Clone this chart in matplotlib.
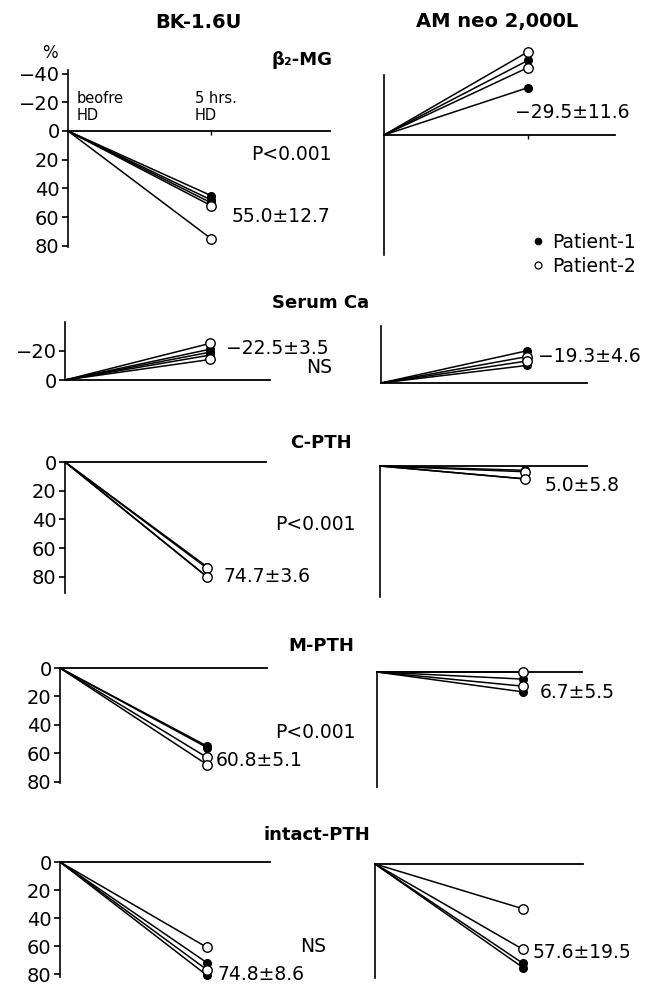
import matplotlib
matplotlib.use('Agg')
import matplotlib.pyplot as plt
from matplotlib.lines import Line2D

plt.rcParams['font.family'] = ['DejaVu Sans']

W, H = 662, 984

# ---------------- data ----------------
columns = ["BK-1.6U", "AM neo 2,000L"]
params = ["β₂-MG", "Serum Ca", "C-PTH", "M-PTH", "intact-PTH"]
x_labels = ["beofre\nHD", "5 hrs.\nHD"]

# % reduction after 5 hrs HD (negative = increase); filled = Patient-1, open = Patient-2
bk_filled = [[45, 48, 50], [-21, -19, -17], [73, 80], [55, 56], [72, 81]]
bk_open = [[52, 75], [-25, -14], [74, 80], [63, 68], [61, 77]]
am_filled = [[-52, -33], [-22, -12], [3, 9], [5, 14], [71, 74]]
am_open = [[-58, -47], [-18, -15], [4, 9], [0, 10], [32, 61]]

bk_stats = ["55.0±12.7", "−22.5±3.5", "74.7±3.6", "60.8±5.1", "74.8±8.6"]
am_stats = ["−29.5±11.6", "−19.3±4.6", "5.0±5.8", "6.7±5.5", "57.6±19.5"]
p_values = ["P<0.001", "NS", "P<0.001", "P<0.001", "NS"]

row_ticks = [[-40, -20, 0, 20, 40, 60, 80], [-20, 0], [0, 20, 40, 60, 80],
             [0, 20, 40, 60, 80], [0, 20, 40, 60, 80]]
legend_labels = ["Patient-1", "Patient-2"]

# ---------------- layout (pixels) ----------------
# spine_x, end_x, point_x, top_y, bottom_y, zero_y, px per unit
left_layout = [(68, 330, 211, 70, 247, 131, 1.435),
               (65, 270, 210, 322, 380, 380, 1.465),
               (65, 266, 207, 462, 593, 462, 1.435),
               (60, 267, 207, 668, 783, 668, 1.42),
               (60, 270, 207, 862, 977, 862, 1.40)]
right_layout = [(384, 615, 528, 75, 255, 135, 1.435),
                (381, 587, 527, 326, 383, 383, 1.465),
                (380, 587, 525, 466, 597, 466, 1.435),
                (377, 582, 523, 672, 787, 672, 1.42),
                (375, 583, 523, 864, 978, 864, 1.40)]

bk_stat_pos = [(330, 217, 'right'), (226, 349, 'left'), (223, 577, 'left'),
               (216, 760, 'left'), (218, 974, 'left')]
am_stat_pos = [(515, 112, 'left'), (538, 357, 'left'), (545, 485, 'left'),
               (540, 692, 'left'), (533, 952, 'left')]
p_pos = [(332, 155, 'right'), (332, 367, 'right'), (275, 525, 'left'),
         (275, 732, 'left'), (300, 947, 'left')]
title_pos = [(302, 60), (321, 303), (321, 443), (321, 646), (317, 835)]

fig = plt.figure(figsize=(W / 100, H / 100), dpi=100)
fig.patch.set_facecolor('white')


def ftext(x, y, s, **kw):
    kw.setdefault('va', 'center')
    return fig.text(x / W, 1 - y / H, s, **kw)


def tick_fmt(t):
    return f"−{abs(t)}" if t < 0 else str(t)


def make_ax(lay):
    sx, ex, px, ty, by, zy, sc = lay
    ax = fig.add_axes([sx / W, 1 - by / H, (ex - sx) / W, (by - ty) / H])
    ax.set_xlim(0, (ex - sx) / (px - sx))
    ax.set_ylim((by - zy) / sc, (ty - zy) / sc)
    ax.patch.set_alpha(0)
    for s in ['top', 'right']:
        ax.spines[s].set_visible(False)
    ax.spines['bottom'].set_position(('data', 0))
    ax.spines['left'].set_linewidth(1.2)
    ax.spines['bottom'].set_linewidth(1.3)
    ax.set_xticks([])
    return ax


def draw(ax, filled, opened):
    for v in filled:
        ax.plot([0, 1], [0, v], color='black', lw=1.1, clip_on=False, zorder=3)
        ax.plot([1], [v], marker='o', ms=5.5, mfc='black', mec='black',
                ls='none', clip_on=False, zorder=4)
    for v in opened:
        ax.plot([0, 1], [0, v], color='black', lw=1.1, clip_on=False, zorder=3)
        ax.plot([1], [v], marker='o', ms=6.8, mfc='white', mec='black', mew=1.0,
                ls='none', clip_on=False, zorder=5)


for i in range(5):
    axl = make_ax(left_layout[i])
    draw(axl, bk_filled[i], bk_open[i])
    axl.set_yticks(row_ticks[i])
    axl.set_yticklabels([tick_fmt(t) for t in row_ticks[i]], fontsize=14)
    axl.tick_params(axis='y', direction='out', length=4, width=1.2, pad=2)

    axr = make_ax(right_layout[i])
    draw(axr, am_filled[i], am_open[i])
    axr.set_yticks([])

    if i == 0:
        for ax in (axl, axr):
            ax.set_xticks([1])
            ax.set_xticklabels([])
            ax.tick_params(axis='x', direction='out', length=3, width=1.0)

    ftext(*title_pos[i], params[i], ha='center', fontsize=13, fontweight='bold')
    x, y, ha = bk_stat_pos[i]
    ftext(x, y, bk_stats[i], ha=ha, fontsize=13.5)
    x, y, ha = am_stat_pos[i]
    ftext(x, y, am_stats[i], ha=ha, fontsize=13.5)
    x, y, ha = p_pos[i]
    ftext(x, y, p_values[i], ha=ha, fontsize=13.5)

# column headers
ftext(198, 22, columns[0], ha='center', fontsize=14, fontweight='bold')
ftext(497, 22, columns[1], ha='center', fontsize=14, fontweight='bold')
ftext(50, 53, "%", ha='center', fontsize=12)
ftext(77, 107, x_labels[0], ha='left', fontsize=10.5, linespacing=1.2)
ftext(195, 107, x_labels[1], ha='left', fontsize=10.5, linespacing=1.2)

handles = [Line2D([], [], marker='o', ls='none', ms=4.5, mfc='black', mec='black'),
           Line2D([], [], marker='o', ls='none', ms=5, mfc='white', mec='black', mew=0.9)]
fig.legend(handles, legend_labels, loc='upper left',
           bbox_to_anchor=(532 / W, 1 - 233 / H), frameon=False,
           fontsize=13.5, handlelength=0.6, handletextpad=0.5,
           labelspacing=0.25, borderpad=0, borderaxespad=0)

fig.savefig('out.png', dpi=100, facecolor='white')
